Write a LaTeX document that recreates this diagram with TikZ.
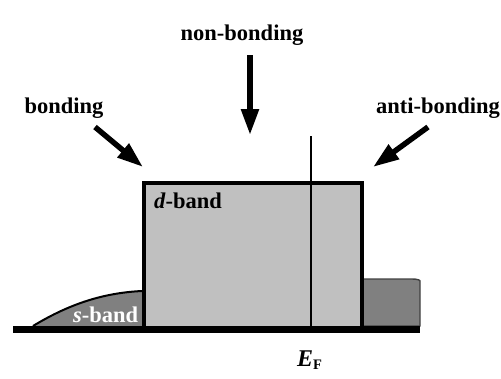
\documentclass[tikz,border=0pt]{standalone}
\usepackage{fontspec}
\setmainfont{Liberation Serif}
\usetikzlibrary{arrows.meta}
\definecolor{lightband}{HTML}{C0C0C0}
\definecolor{darkband}{HTML}{808080}
\tikzset{
  lbl/.style={font=\fontsize{22.5}{27}\selectfont\bfseries, inner sep=0pt},
  bigarrow/.style={line width=5.5pt, -{Triangle[length=26pt, width=17pt]}},
}
\begin{document}
\begin{tikzpicture}[x=1pt,y=-1pt]
\useasboundingbox (0,0) rectangle (501,378);
% s-band
\fill[darkband] (33,326) .. controls (66,306) and (100,293) .. (142,291) -- (142,326) -- cycle;
\draw[line width=2pt] (33,326) .. controls (66,306) and (100,293) .. (142,291);
% right dark part
\fill[darkband, draw=black!75, line width=1.4pt] (360,279) -- (412,279) .. controls (417,279) and (420,280) .. (420,281) -- (420,326) -- (360,326) -- cycle;
% d-band
\node[draw=black, line width=3.5pt, fill=lightband, minimum width=218pt, minimum height=145pt, inner sep=0pt, anchor=north west] (dband) at (142,181) {};
% baseline
\fill[black] (13,326) rectangle (420,333);
% Fermi level
\coordinate (eftop) at (311,136);
\coordinate (efbot) at (311,327);
\draw[line width=2.8pt] (eftop) -- (efbot);
% labels
\node[lbl, anchor=base] (nonb) at (242,40) {non-bonding};
\node[lbl, anchor=base] (bond) at (64,113) {bonding};
\node[lbl, anchor=base west] (anti) at (376,113) {anti-bonding};
\node[lbl, anchor=base west] (dlbl) at (154,208) {\textit{d}-band};
\node[lbl, anchor=base west, text=white] (slbl) at (73,322) {\textit{s}-band};
\node[font=\fontsize{24}{28}\selectfont\bfseries, inner sep=0pt, anchor=base west] (ef) at (297,366) {\textit{E}\raisebox{-3pt}{\fontsize{14.5}{16}\selectfont F}};
% arrows
\coordinate (nbs) at (250,55);
\coordinate (nbe) at (250,135);
\coordinate (bs) at (95,127);
\coordinate (be) at (143,167);
\coordinate (as) at (428,127);
\coordinate (ae) at (373,167);
\draw[bigarrow] (nbs) -- (nbe);
\draw[bigarrow] (bs) -- (be);
\draw[bigarrow] (as) -- (ae);
\end{tikzpicture}
\end{document}
